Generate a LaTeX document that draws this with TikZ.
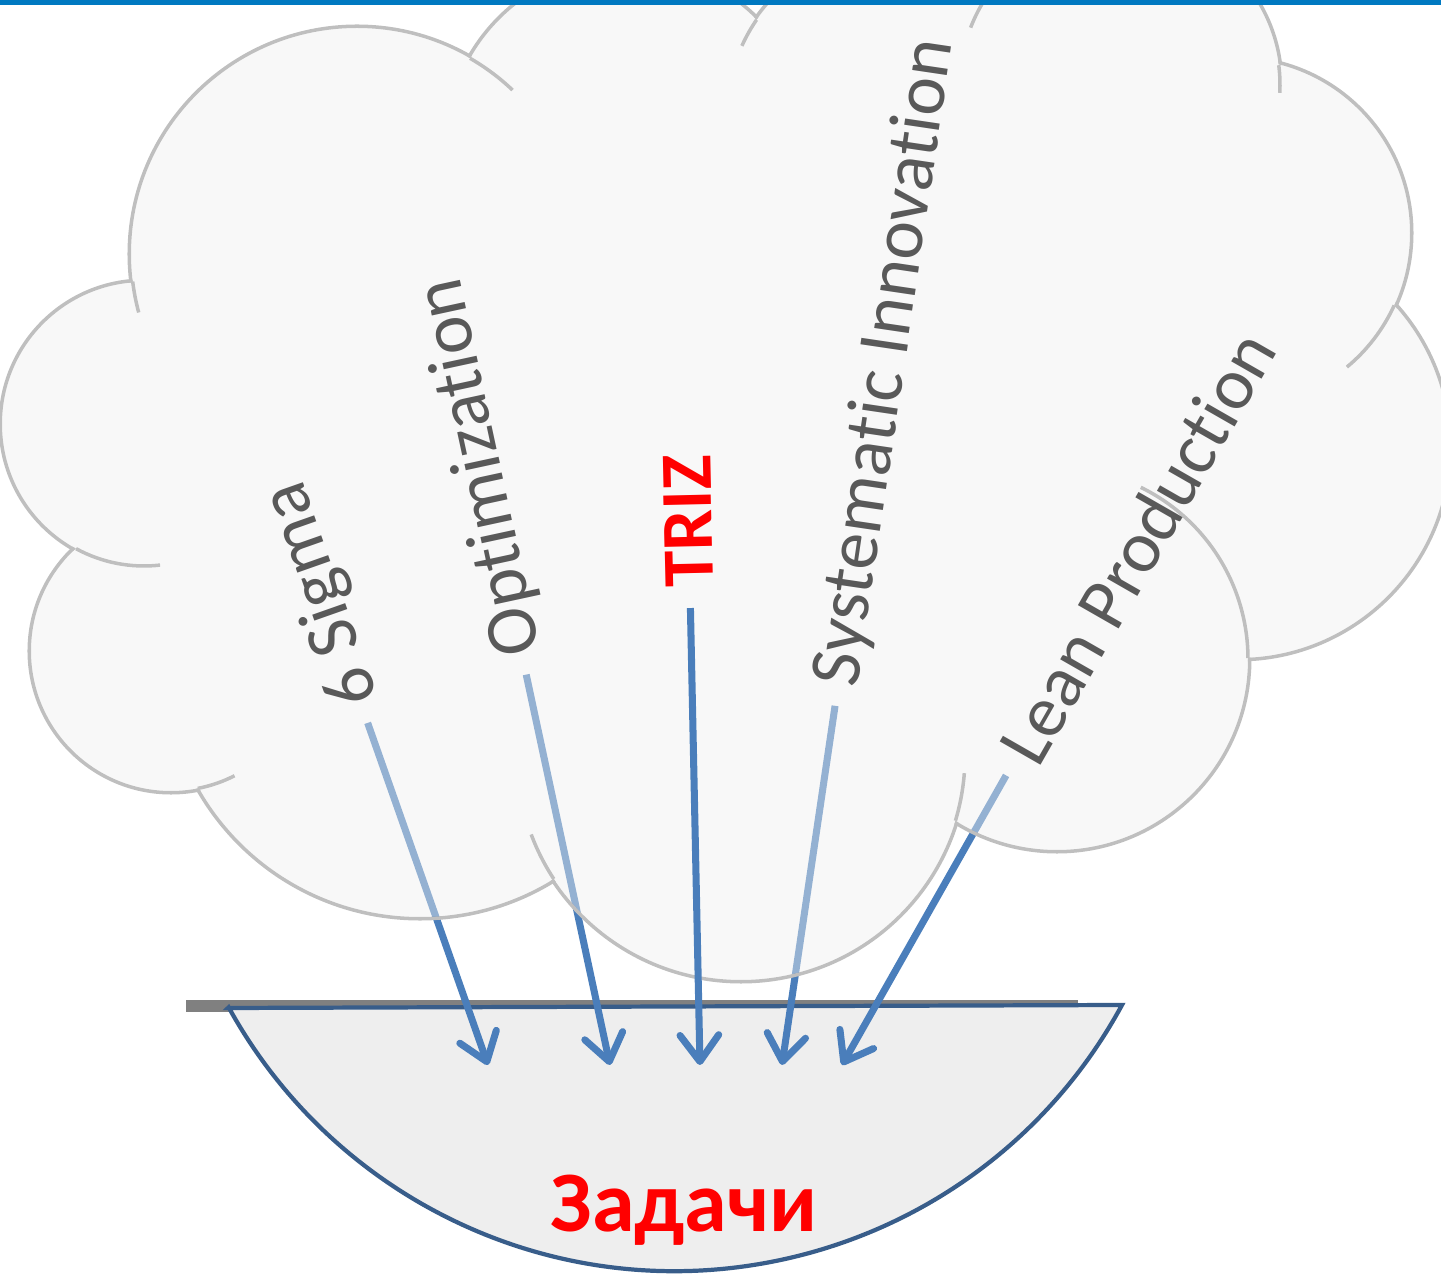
\documentclass[tikz,border=0pt]{standalone}
\usepackage{fontspec}
\setmainfont{Carlito}[Ligatures=NoCommon]
\usetikzlibrary{arrows.meta}
\definecolor{cloudgray}{HTML}{BFBFBF}
\definecolor{cloudfill}{HTML}{F0F0F0}
\definecolor{arrowblue}{HTML}{4A7EBB}
\definecolor{bowlfill}{HTML}{EEEEEE}
\definecolor{bowlline}{HTML}{385D8A}
\definecolor{bargray}{HTML}{808080}
\definecolor{textgray}{HTML}{595959}
\definecolor{topblue}{HTML}{0079C1}
\pgfdeclarelayer{bottom}
\pgfdeclarelayer{cloud}
\pgfsetlayers{bottom,cloud,main}
% cloud lobes: centre x / centre y / radius
\newcommand\cloudlobes{357/1021/226, 628/1128/181, 895/1160/168, 1120/1190/160, 1236/1042/174, 1238/828/211, 1057/616/191, 741/519/224, 420/612/254, 171/624/140, 144/851/142}

\begin{document}
\begin{tikzpicture}[x=0.01cm, y=0.01cm, line join=round,
  method/.style={text=textgray, font=\fontsize{20.8}{24}\selectfont, inner sep=0pt, anchor=west},
  flow/.style={draw=arrowblue, line width=2pt, -{Straight Barb[length=7.5pt, width=11pt, round]}, shorten <=5.7pt},
  cloudedge/.style={draw=cloudgray, line width=1pt}]
\useasboundingbox (0,0) rectangle (1441,1275);

% Ground bar and bowl
\begin{pgfonlayer}{bottom}
\draw[bargray, line width=3.2pt] (186,269) -- (1078,269);
\draw[bowlline, fill=bowlfill, line width=1.2pt] (228,267) -- (1122,270) arc[start angle=-28.5, end angle=-151.2, radius=509] -- cycle;
\end{pgfonlayer}
\node[text=red, font=\fontsize{24.5}{28}\selectfont\bfseries, anchor=base] (tasks) at (684,43) {Задачи};

% Methods
\node[method, rotate=109.4] (sigma) at (361,571) {6 Sigma};
\node[method, rotate=102.2] (optim) at (522,620) {Optimization};
\node[method, rotate=91.3, text=red, font=\fontsize{20.8}{24}\selectfont\bfseries] (triz) at (690,687) {TRIZ};
\node[method, rotate=81.6] (sysinno) at (838,589) {Systematic Innovation};
\node[method, rotate=60.2] (lean) at (1016,517) {Lean Production};

% Targets in the bowl
\coordinate (t1) at (488,210);
\coordinate (t2) at (610,210);
\coordinate (t3) at (700,210);
\coordinate (t4) at (782,210);
\coordinate (t5) at (842,210);

% Arrows
\begin{pgfonlayer}{bottom}
\draw[flow] (sigma.west) -- (t1);
\draw[flow] (optim.west) -- (t2);
\draw[flow] (sysinno.west) -- (t4);
\draw[flow] (lean.west) -- (t5);
\end{pgfonlayer}
\draw[flow] (triz.west) -- (t3);

% Cloud
\begin{pgfonlayer}{cloud}
\fill[cloudfill, fill opacity=0.45] foreach \cx/\cy/\r in \cloudlobes {(\cx,\cy) circle[radius=\r]}
  (144,851) -- (171,624) -- (420,612) -- (741,519) -- (1057,616) -- (1238,828) -- (1236,1042) -- (1120,1190) -- (895,1160) -- (628,1128) -- (357,1021) -- cycle;
\begin{scope}[even odd rule]
\clip (-20,-20) rectangle (1470,1300) (357,1021) circle[radius=226];
\clip (-20,-20) rectangle (1470,1300) (628,1128) circle[radius=181];
\clip (-20,-20) rectangle (1470,1300) (895,1160) circle[radius=168];
\clip (-20,-20) rectangle (1470,1300) (1120,1190) circle[radius=160];
\clip (-20,-20) rectangle (1470,1300) (1236,1042) circle[radius=174];
\clip (-20,-20) rectangle (1470,1300) (1238,828) circle[radius=211];
\clip (-20,-20) rectangle (1470,1300) (1057,616) circle[radius=191];
\clip (-20,-20) rectangle (1470,1300) (741,519) circle[radius=224];
\clip (-20,-20) rectangle (1470,1300) (420,612) circle[radius=254];
\clip (-20,-20) rectangle (1470,1300) (171,624) circle[radius=140];
\clip (-20,-20) rectangle (1470,1300) (144,851) circle[radius=142];
\clip (-20,-20) rectangle (1470,1300) (144,851) -- (171,624) -- (420,612) -- (741,519) -- (1057,616) -- (1238,828) -- (1236,1042) -- (1120,1190) -- (895,1160) -- (628,1128) -- (357,1021) -- cycle;
\foreach \cx/\cy/\r in \cloudlobes {\draw[cloudgray, line width=2pt] (\cx,\cy) circle[radius=\r];}
\end{scope}
% inner folds
\foreach \cx/\cy/\r/\a/\b in {357/1021/226/187/195, 357/1021/226/60/46.5, 144/851/142/241.4/276.5, 171/624/140/281/297, 741/519/224/213.3/200.5, 741/519/224/-16.8/-4.4, 1057/616/191/0.3/64, 1236/1042/174/-24.6/-50.4, 1120/1190/160/7.1/-2.8, 1120/1190/160/140/159, 895/1160/168/145.5/155.7}
  {\draw[cloudedge] (\cx,\cy) ++(\a:\r) arc[start angle=\a, end angle=\b, radius=\r];}
\end{pgfonlayer}

% Top rule
\fill[topblue] (0,1270) rectangle (1441,1275);
\end{tikzpicture}
\end{document}
